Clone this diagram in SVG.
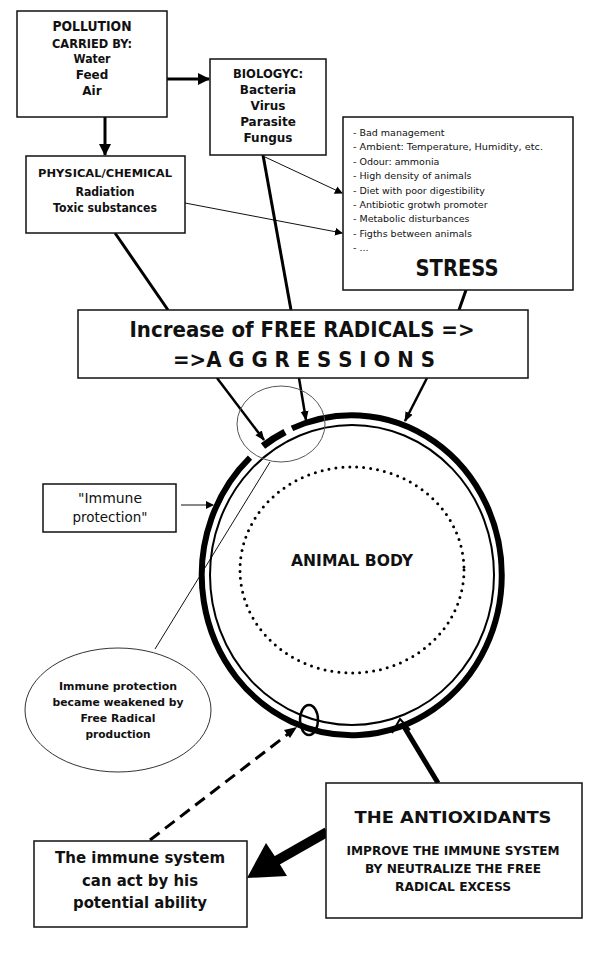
<svg xmlns="http://www.w3.org/2000/svg" width="596" height="962" viewBox="0 0 596 962">
<style>
.box{fill:#fff;stroke:#111;stroke-width:1.5}
.t{font-family:"DejaVu Sans","Liberation Sans",sans-serif;fill:#111;text-anchor:middle}
.b{font-weight:bold}
.thick{stroke:#000;stroke-width:3;fill:none}
.thin{stroke:#111;stroke-width:1;fill:none}
</style>
<defs>
<marker id="ah" markerWidth="8" markerHeight="8" refX="7" refY="4" orient="auto" markerUnits="userSpaceOnUse">
<path d="M0,0 L8,4 L0,8 Z" fill="#000"/>
</marker>
<marker id="ahs" markerWidth="10" markerHeight="10" refX="9" refY="5" orient="auto" markerUnits="userSpaceOnUse">
<path d="M0,1 L10,5 L0,9 Z" fill="#000"/>
</marker>
<marker id="ahb" markerWidth="12" markerHeight="12" refX="11" refY="6" orient="auto" markerUnits="userSpaceOnUse">
<path d="M0,0 L12,6 L0,12 Z" fill="#000"/>
</marker>
</defs>
<rect width="596" height="962" fill="#fff"/>

<g id="connectors">
<line class="thick" x1="167" y1="79" x2="209" y2="79" marker-end="url(#ahb)"/>
<line class="thick" x1="105" y1="117" x2="105" y2="155" marker-end="url(#ahb)"/>
<line class="thin" x1="265" y1="157" x2="342" y2="193" marker-end="url(#ah)"/>
<line class="thin" x1="185" y1="203" x2="342" y2="233" marker-end="url(#ah)"/>
<line class="thick" x1="263" y1="155" x2="291" y2="310"/>
<line class="thick" x1="115" y1="233" x2="168" y2="310"/>
<line class="thick" x1="466" y1="290" x2="459" y2="310"/>
<line stroke="#000" stroke-width="2.5" x1="217" y1="378" x2="264" y2="440" marker-end="url(#ahs)"/>
<line stroke="#000" stroke-width="2.5" x1="299" y1="378" x2="306" y2="420" marker-end="url(#ahs)"/>
<line stroke="#000" stroke-width="2.5" x1="427" y1="378" x2="405" y2="421" marker-end="url(#ahs)"/>
<line class="thin" x1="181" y1="505" x2="213" y2="505" marker-end="url(#ah)"/>
<line class="thin" x1="270" y1="462" x2="155" y2="649" stroke="#333"/>
<line stroke="#000" stroke-width="3" stroke-dasharray="12,7" x1="150" y1="840" x2="292" y2="731"/>
<path d="M297,727 L284,730 L290,738 Z" fill="#000"/>
<line stroke="#000" stroke-width="5" x1="438" y1="783" x2="403" y2="725"/>
<path d="M392,733 L400,719 L410,730" fill="none" stroke="#000" stroke-width="2"/>
<line stroke="#000" stroke-width="10" x1="327" y1="832" x2="276" y2="861"/>
<path d="M247,878 L266,843 L276,858 L287,876 Z" fill="#000"/>
</g>

<g id="pollution">
<rect class="box" x="17" y="11" width="150" height="106"/>
<text class="t b" x="92" y="31" font-size="14" textLength="79" lengthAdjust="spacingAndGlyphs">POLLUTION</text>
<text class="t b" x="92" y="48" font-size="12" textLength="80" lengthAdjust="spacingAndGlyphs">CARRIED BY:</text>
<text class="t b" x="92" y="63" font-size="12" textLength="37" lengthAdjust="spacingAndGlyphs">Water</text>
<text class="t b" x="92" y="79" font-size="12">Feed</text>
<text class="t b" x="92" y="95" font-size="12">Air</text>
</g>

<g id="biologyc">
<rect class="box" x="210" y="59" width="116" height="96"/>
<text class="t b" x="268" y="78" font-size="12" textLength="70" lengthAdjust="spacingAndGlyphs">BIOLOGYC:</text>
<text class="t b" x="268" y="94" font-size="12">Bacteria</text>
<text class="t b" x="268" y="110" font-size="12">Virus</text>
<text class="t b" x="268" y="126" font-size="12">Parasite</text>
<text class="t b" x="268" y="142" font-size="12">Fungus</text>
</g>

<g id="physical">
<rect class="box" x="26" y="156" width="159" height="77"/>
<text class="t b" x="105" y="177" font-size="11" textLength="134" lengthAdjust="spacingAndGlyphs">PHYSICAL/CHEMICAL</text>
<text class="t b" x="105" y="196" font-size="12" textLength="59" lengthAdjust="spacingAndGlyphs">Radiation</text>
<text class="t b" x="105" y="212" font-size="12" textLength="104" lengthAdjust="spacingAndGlyphs">Toxic substances</text>
</g>

<g id="stress">
<rect class="box" x="343" y="117" width="230" height="173"/>
<g font-family="DejaVu Sans, Liberation Sans, sans-serif" font-size="9.5" fill="#111">
<text x="353" y="136">- Bad management</text>
<text x="353" y="150.4" textLength="190" lengthAdjust="spacingAndGlyphs">- Ambient: Temperature, Humidity, etc.</text>
<text x="353" y="164.8">- Odour: ammonia</text>
<text x="353" y="179.2">- High density of animals</text>
<text x="353" y="193.6">- Diet with poor digestibility</text>
<text x="353" y="208">- Antibiotic grotwh promoter</text>
<text x="353" y="222.4">- Metabolic disturbances</text>
<text x="353" y="236.8">- Figths between animals</text>
<text x="353" y="251.2">- ...</text>
</g>
<text class="t b" x="457" y="276" font-size="23" textLength="83" lengthAdjust="spacingAndGlyphs">STRESS</text>
</g>

<g id="freeradicals">
<rect class="box" x="78" y="310" width="450" height="68"/>
<text class="t b" x="302" y="337" font-size="21" textLength="345" lengthAdjust="spacingAndGlyphs">Increase of FREE RADICALS =&gt;</text>
<text class="t b" x="304" y="367" font-size="21" textLength="262" lengthAdjust="spacingAndGlyphs">=&gt;A G G R E S S I O N S</text>
</g>

<g id="animalbody">
<ellipse cx="352" cy="575" rx="142" ry="150" fill="none" stroke="#000" stroke-width="2"/>
<path d="M292,428.4 A150,160 0 1 1 250,457.6" fill="none" stroke="#000" stroke-width="6"/>
<path d="M263,446 A150,160 0 0 1 285,432" fill="none" stroke="#000" stroke-width="7"/>
<ellipse cx="352" cy="570" rx="112" ry="103" fill="none" stroke="#000" stroke-width="3" stroke-linecap="round" stroke-dasharray="0,7"/>
<text class="t b" x="352" y="566" font-size="15" textLength="122" lengthAdjust="spacingAndGlyphs">ANIMAL BODY</text>
<ellipse cx="309" cy="720" rx="9" ry="15" fill="none" stroke="#000" stroke-width="2.5"/>
</g>

<g id="magnifier">
<ellipse cx="281" cy="424" rx="44" ry="38" fill="none" stroke="#555" stroke-width="1"/>
</g>

<g id="immuneprotection">
<rect class="box" x="43" y="484" width="133" height="48"/>
<text class="t" x="110" y="503" font-size="14" textLength="64" lengthAdjust="spacingAndGlyphs">"Immune</text>
<text class="t" x="110" y="522" font-size="14" textLength="75" lengthAdjust="spacingAndGlyphs">protection"</text>
</g>

<g id="weakened">
<ellipse cx="118" cy="710" rx="93" ry="62" fill="#fff" stroke="#333" stroke-width="1"/>
<text class="t b" x="118" y="690" font-size="11" textLength="118" lengthAdjust="spacingAndGlyphs">Immune protection</text>
<text class="t b" x="118" y="706" font-size="11" textLength="131" lengthAdjust="spacingAndGlyphs">became weakened by</text>
<text class="t b" x="118" y="722" font-size="11" textLength="75" lengthAdjust="spacingAndGlyphs">Free Radical</text>
<text class="t b" x="118" y="738" font-size="11" textLength="65" lengthAdjust="spacingAndGlyphs">production</text>
</g>

<g id="antioxidants">
<rect class="box" x="326" y="783" width="256" height="135"/>
<text class="t b" x="453" y="823" font-size="16" textLength="197" lengthAdjust="spacingAndGlyphs">THE ANTIOXIDANTS</text>
<text class="t b" x="453" y="855" font-size="12" textLength="213" lengthAdjust="spacingAndGlyphs">IMPROVE THE IMMUNE SYSTEM</text>
<text class="t b" x="453" y="873" font-size="12" textLength="176" lengthAdjust="spacingAndGlyphs">BY NEUTRALIZE THE FREE</text>
<text class="t b" x="453" y="891" font-size="12" textLength="116" lengthAdjust="spacingAndGlyphs">RADICAL EXCESS</text>
</g>

<g id="immunesystem">
<rect class="box" x="34" y="841" width="213" height="86"/>
<text class="t b" x="140" y="863" font-size="16" textLength="170" lengthAdjust="spacingAndGlyphs" font-family="Open Sans, Noto Sans, sans-serif">The immune system</text>
<text class="t b" x="140" y="886" font-size="16" textLength="116" lengthAdjust="spacingAndGlyphs" font-family="Open Sans, Noto Sans, sans-serif">can act by his</text>
<text class="t b" x="140" y="908" font-size="16" textLength="134" lengthAdjust="spacingAndGlyphs" font-family="Open Sans, Noto Sans, sans-serif">potential ability</text>
</g>
</svg>
